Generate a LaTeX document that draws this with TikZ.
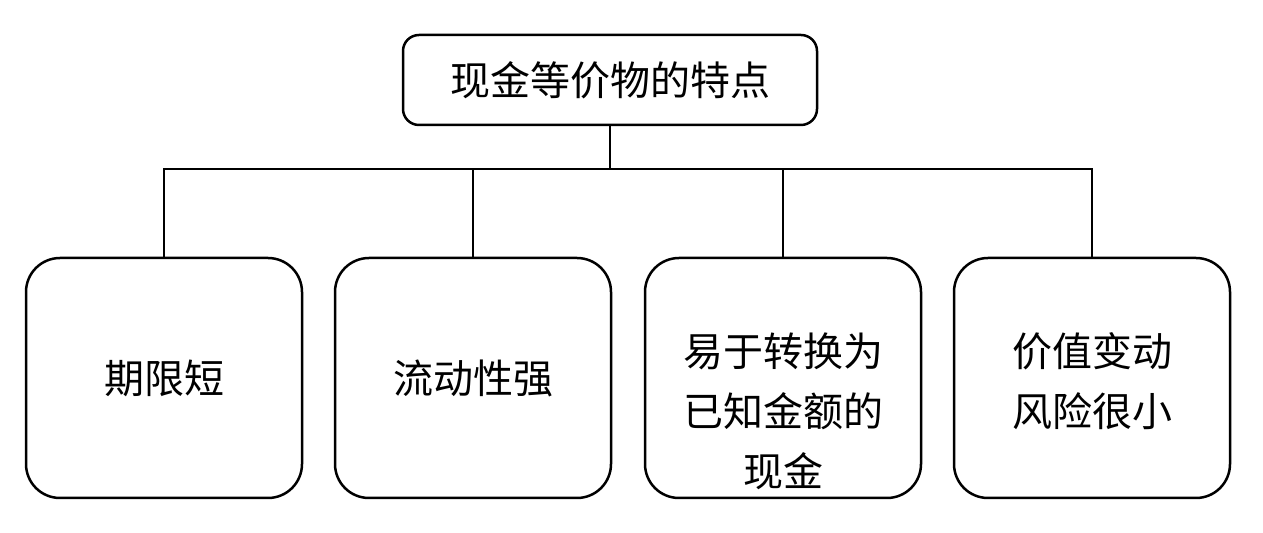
\documentclass[tikz,border=0pt]{standalone}
\usepackage{fontspec}
\newfontfamily\cjk{Noto Sans CJK SC}
\tikzset{
    top-box/.style = {draw, line width=1.25pt, rounded corners=8pt, minimum width=207pt, minimum height=45pt, inner sep=0pt},
    leaf-box/.style = {draw, line width=1.25pt, rounded corners=17pt, minimum width=138pt, minimum height=120pt, inner sep=0pt},
    leaf-text/.style = {align=center, inner sep=0pt, font=\cjk\fontsize{20}{30}\selectfont},
    link/.style = {line width=1.25pt},
}

\begin{document}
\begin{tikzpicture}[x=0.5pt, y=-0.5pt]
\useasboundingbox (0,0) rectangle (1263,533);
\node [top-box, font=\cjk\fontsize{20}{30}\selectfont] (top) at (610,80) {现金等价物的特点};
\coordinate (bus) at (610,169);
% four leaves
\node [leaf-box] (b1) at (164,378) {};
\node [leaf-box] (b2) at (473,378) {};
\node [leaf-box] (b3) at (783,378) {};
\node [leaf-box] (b4) at (1092,378) {};
\node [leaf-text] (t1) at (b1.center) {期限短};
\node [leaf-text] (t2) at (b2.center) {流动性强};
\node [leaf-text] (t3) at ([yshift=-16.5pt]b3.center) {易于转换为\\已知金额的\\现金};
\node [leaf-text] (t4) at ([yshift=-1.5pt]b4.center) {价值变动\\风险很小};
\foreach \i in {1,...,4}
    \draw [link] (top.south) -- (bus) -| (b\i.north);
\end{tikzpicture}
\end{document}
